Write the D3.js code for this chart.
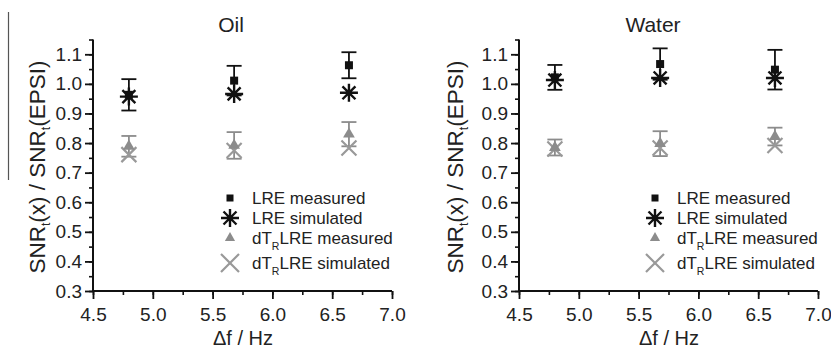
<!DOCTYPE html>
<html>
<head>
<meta charset="utf-8">
<script src="https://cdn.jsdelivr.net/npm/d3@7"></script>
<style>
  body { margin: 0; background: #fff; }
  svg { font-family: "Liberation Sans", Arial, sans-serif; }
</style>
</head>
<body>
<svg id="chart" width="831" height="350"></svg>
<script>
// frequency offsets (x), shared by both panels
var freqs = [4.8, 5.68, 6.64];
var panelTitles = ["Oil", "Water"];

// Oil panel
var oilLreMeas = [0.963, 1.011, 1.063];
var oilLreMeasErr = [0.053, 0.05, 0.044];
var oilLreSim = [0.957, 0.966, 0.970];
var oilDtrMeas = [0.789, 0.792, 0.830];
var oilDtrMeasErr = [0.035, 0.045, 0.041];
var oilDtrSim = [0.761, 0.775, 0.783];

// Water panel
var waterLreMeas = [1.022, 1.067, 1.048];
var waterLreMeasErr = [0.042, 0.053, 0.067];
var waterLreSim = [1.013, 1.020, 1.020];
var waterDtrMeas = [0.785, 0.798, 0.822];
var waterDtrMeasErr = [0.027, 0.042, 0.03];
var waterDtrSim = [0.780, 0.783, 0.792];

var xTicks = [4.5, 5.0, 5.5, 6.0, 6.5, 7.0];
var yTicks = [0.3, 0.4, 0.5, 0.6, 0.7, 0.8, 0.9, 1.0, 1.1];
var legendNames = ["LRE measured", "LRE simulated", "measured", "simulated"];

var black = "#111";
var grey = "#8c8c8c";
var font = "Liberation Sans, Arial, sans-serif";

var svg = d3.select("#chart");

// stray rule on the left edge of the scan
svg.append("line")
  .attr("x1", 8.5).attr("x2", 8.5).attr("y1", 12).attr("y2", 180)
  .attr("stroke", "#555").attr("stroke-width", 1.2);

function draw_panel(left, title, lreMeas, lreErr, lreSim, dtrMeas, dtrErr, dtrSim, labelX, legendX, titleX){
  var x = d3.scaleLinear().domain([4.5, 7.0]).range([left, left + 299]);
  var y = d3.scaleLinear().domain([0.3, 1.15]).range([291, 39.5]);
  var g = svg.append("g");

  // axes with minor ticks
  var xMinor = d3.range(4.5, 7.01, 0.25);
  var yMinor = d3.range(0.3, 1.151, 0.05);
  g.append("g").attr("transform", "translate(0,291)")
    .call(d3.axisBottom(x).tickValues(xMinor).tickSize(4).tickFormat(""))
    .call(function(a){ a.select(".domain").remove(); a.selectAll("line").attr("stroke", black).attr("stroke-width", 1.6); });
  g.append("g").attr("transform", "translate(" + left + ",0)")
    .call(d3.axisLeft(y).tickValues(yMinor).tickSize(4).tickFormat(""))
    .call(function(a){ a.select(".domain").remove(); a.selectAll("line").attr("stroke", black).attr("stroke-width", 1.6); });

  g.append("g").attr("transform", "translate(0,291)")
    .call(d3.axisBottom(x).tickValues(xTicks).tickSize(8).tickPadding(9).tickFormat(d3.format(".1f")))
    .call(function(a){
      a.select(".domain").attr("stroke", black).attr("stroke-width", 2).attr("d", "M" + left + ",0H" + (left + 299));
      a.selectAll("line").attr("stroke", black).attr("stroke-width", 1.8);
      a.selectAll("text").attr("fill", "#222").style("font-size", "19px").style("font-family", font);
    });
  g.append("g").attr("transform", "translate(" + left + ",0)")
    .call(d3.axisLeft(y).tickValues(yTicks).tickSize(8).tickPadding(3).tickFormat(d3.format(".1f")))
    .call(function(a){
      a.select(".domain").attr("stroke", black).attr("stroke-width", 2).attr("d", "M0,291V" + y(1.15));
      a.selectAll("line").attr("stroke", black).attr("stroke-width", 1.8);
      a.selectAll("text").attr("fill", "#222").style("font-size", "19px").style("font-family", font);
    });

  // title
  g.append("text").attr("x", titleX).attr("y", 32).attr("text-anchor", "middle")
    .style("font-size", "21px").attr("fill", "#222").text(title);

  // x label
  g.append("text").attr("x", left + 150).attr("y", 345).attr("text-anchor", "middle")
    .style("font-size", "20px").attr("fill", "#222").text("\u0394f / Hz");

  // y label
  var yl = g.append("text").attr("transform", "translate(" + labelX + ",167) rotate(-90)")
    .attr("text-anchor", "middle").style("font-size", "22.5px").attr("fill", "#222");
  yl.append("tspan").text("SNR");
  yl.append("tspan").attr("dy", 5).style("font-size", "12px").text("t");
  yl.append("tspan").attr("dy", -5).text("(x) / SNR");
  yl.append("tspan").attr("dy", 5).style("font-size", "12px").text("t");
  yl.append("tspan").attr("dy", -5).text("(EPSI)");

  // error bars
  function errorbars(vals, errs, col){
    var eg = g.append("g").attr("stroke", col).attr("stroke-width", 1.8);
    freqs.forEach(function(f, i){
      var cx = x(f);
      eg.append("line").attr("x1", cx).attr("x2", cx).attr("y1", y(vals[i] - errs[i])).attr("y2", y(vals[i] + errs[i]));
      [vals[i] - errs[i], vals[i] + errs[i]].forEach(function(v){
        eg.append("line").attr("x1", cx - 7.5).attr("x2", cx + 7.5).attr("y1", y(v)).attr("y2", y(v));
      });
    });
  }
  errorbars(dtrMeas, dtrErr, grey);
  errorbars(lreMeas, lreErr, black);

  // markers
  function cross(sel, cx, cy, r, col){
    sel.append("path")
      .attr("d", "M" + (cx - r) + "," + (cy - r) + "L" + (cx + r) + "," + (cy + r) +
                 "M" + (cx - r) + "," + (cy + r) + "L" + (cx + r) + "," + (cy - r))
      .attr("stroke", col).attr("stroke-width", 2.2).attr("fill", "none");
  }
  function star(sel, cx, cy, r, col){
    var d = r * 0.72;
    sel.append("path")
      .attr("d", "M" + (cx - r) + "," + cy + "H" + (cx + r) +
                 "M" + cx + "," + (cy - r) + "V" + (cy + r) +
                 "M" + (cx - d) + "," + (cy - d) + "L" + (cx + d) + "," + (cy + d) +
                 "M" + (cx - d) + "," + (cy + d) + "L" + (cx + d) + "," + (cy - d))
      .attr("stroke", col).attr("stroke-width", 2.4).attr("fill", "none");
  }
  function square(sel, cx, cy, s, col){
    sel.append("rect").attr("x", cx - s / 2).attr("y", cy - s / 2).attr("width", s).attr("height", s).attr("fill", col);
  }
  function tri(sel, cx, cy, s, col){
    sel.append("path").attr("d", d3.symbol().type(d3.symbolTriangle).size(s)())
      .attr("transform", "translate(" + cx + "," + cy + ")").attr("fill", col);
  }

  var mg = g.append("g");
  freqs.forEach(function(f, i){ cross(mg, x(f), y(dtrSim[i]), 7.5, "#999"); });
  freqs.forEach(function(f, i){ tri(mg, x(f), y(dtrMeas[i]), 60, grey); });
  freqs.forEach(function(f, i){ star(mg, x(f), y(lreSim[i]), 9, black); });
  freqs.forEach(function(f, i){ square(mg, x(f), y(lreMeas[i]), 8, black); });

  // legend
  var rows = [198, 218, 238, 263];
  var lg = g.append("g");
  square(lg, legendX, rows[0], 7, black);
  star(lg, legendX, rows[1], 9, black);
  tri(lg, legendX, rows[2], 45, grey);
  cross(lg, legendX, rows[3], 9, "#999");
  rows.forEach(function(ry, i){
    var t = lg.append("text").attr("x", legendX + 22).attr("y", ry + 6)
      .style("font-size", "17px").attr("fill", "#222");
    if(i < 2){
      t.text(legendNames[i]);
    }
    else{
      t.append("tspan").text("dT");
      t.append("tspan").attr("dy", 6).style("font-size", "10.5px").text("R");
      t.append("tspan").attr("dy", -6).text("LRE " + legendNames[i]);
    }
  });
}

draw_panel(93, panelTitles[0], oilLreMeas, oilLreMeasErr, oilLreSim, oilDtrMeas, oilDtrMeasErr, oilDtrSim, 45, 230, 231);
draw_panel(519, panelTitles[1], waterLreMeas, waterLreMeasErr, waterLreSim, waterDtrMeas, waterDtrMeasErr, waterDtrSim, 463, 655, 653);
</script>
</body>
</html>
